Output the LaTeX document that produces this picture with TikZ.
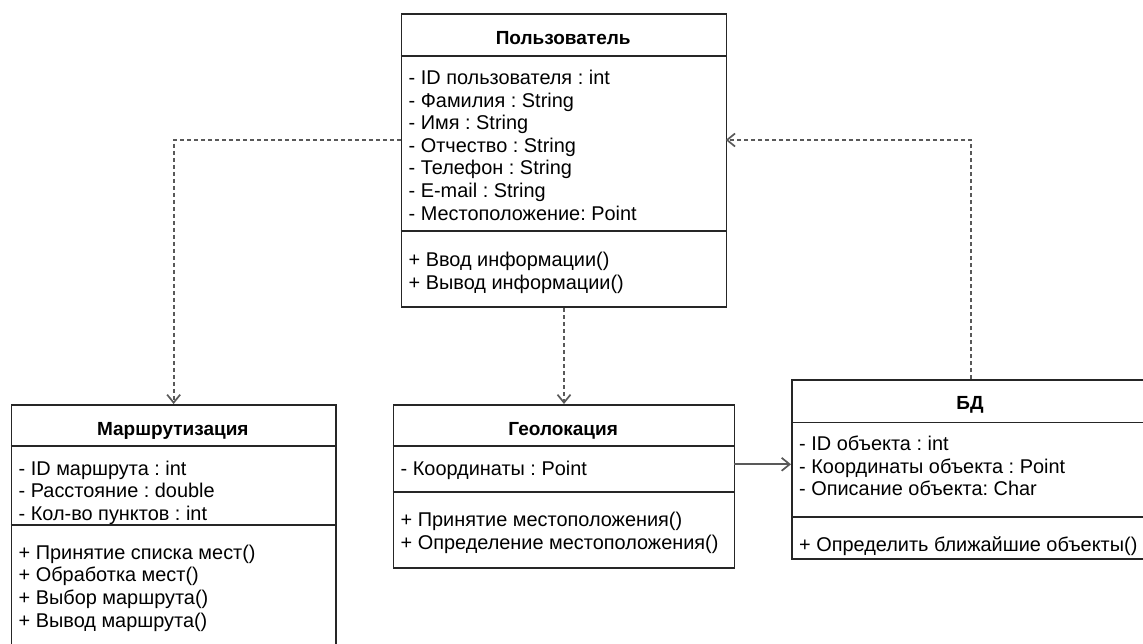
\documentclass[tikz,border=0pt]{standalone}
\usepackage{fontspec}
\setmainfont{Liberation Sans}
\usetikzlibrary{arrows.meta,calc}
\frenchspacing

\begin{document}
\begin{tikzpicture}[x=1pt,y=-1pt,
	classbox/.style={draw=black!85, line width=1.6pt, anchor=north west, inner sep=0pt},
	sepline/.style={draw=black!85, line width=1.6pt},
	title/.style={font=\fontsize{19}{22.6}\selectfont\bfseries, anchor=base, inner sep=0pt},
	member/.style={font=\fontsize{19.9}{22.6}\selectfont, anchor=base west, inner sep=0pt},
	link/.style={draw=black!65, line width=1.7pt, -{Straight Barb[length=8pt,width=13pt]}},
	dep/.style={link, dash pattern=on 4pt off 3pt}]
	\useasboundingbox (0,0) rectangle (1143,644);
	\clip (0,0) rectangle (1143,644);

	% Пользователь
	\node[classbox, minimum width=325pt, minimum height=293pt] (user) at (400.7,13.5) {};
	\draw[sepline] (user.north west) ++(0,42.5) -- ++(325,0);
	\draw[sepline] (user.north west) ++(0,217.5) -- ++(325,0);
	\node[title] (user-t) at (563.2,44.3) {Пользователь};
	\foreach \txt [count=\i from 0] in {- ID пользователя : int, - Фамилия : String, - Имя : String, - Отчество : String, - Телефон : String, - E-mail : String, - Местоположение: Point}
		\node[member] (user-a\i) at (408.5,84.5+22.6*\i) {\txt};
	\foreach \txt [count=\i from 0] in {+ Ввод информации(), + Вывод информации()}
		\node[member] (user-m\i) at (408.5,266.5+22.6*\i) {\txt};

	% Маршрутизация
	\node[classbox, minimum width=324.3pt, minimum height=260pt] (route) at (10.7,404) {};
	\draw[sepline] (route.north west) ++(0,42) -- ++(324.3,0);
	\draw[sepline] (route.north west) ++(0,121) -- ++(324.3,0);
	\node[title] (route-t) at (172.8,435) {Маршрутизация};
	\foreach \txt [count=\i from 0] in {- ID маршрута : int, - Расстояние : double, - Кол-во пунктов : int}
		\node[member] (route-a\i) at (18.5,475+22.6*\i) {\txt};
	\foreach \txt [count=\i from 0] in {+ Принятие списка мест(), + Обработка мест(), + Выбор маршрута(), + Вывод маршрута()}
		\node[member] (route-m\i) at (18.5,559.3+22.6*\i) {\txt};

	% Геолокация
	\node[classbox, minimum width=341pt, minimum height=163pt] (geo) at (392.7,404) {};
	\draw[sepline] (geo.north west) ++(0,42) -- ++(341,0);
	\draw[sepline] (geo.north west) ++(0,88) -- ++(341,0);
	\node[title] (geo-t) at (563.2,435) {Геолокация};
	\node[member] (geo-a0) at (400.5,475) {- Координаты : Point};
	\foreach \txt [count=\i from 0] in {+ Принятие местоположения(), + Определение местоположения()}
		\node[member] (geo-m\i) at (400.5,526.5+22.6*\i) {\txt};

	% БД
	\node[classbox, minimum width=358pt, minimum height=179pt] (db) at (791,379.3) {};
	\draw[sepline] (db.north west) ++(0,43) -- ++(358,0);
	\draw[sepline] (db.north west) ++(0,137.4) -- ++(358,0);
	\node[title] (db-t) at (970,409.8) {БД};
	\foreach \txt [count=\i from 0] in {- ID объекта : int, - Координаты объекта : Point, - Описание объекта: Char}
		\node[member] (db-a\i) at (799,450.5+22.6*\i) {\txt};
	\node[member] (db-m0) at (799,551.5) {+ Определить ближайшие объекты()};

	% связи
	\coordinate (u-left) at (400.7,140);
	\coordinate (u-right) at (725.7,140);
	\coordinate (g-right) at (733.7,464.3);
	\draw[dep] (u-left) -| (route.north);
	\draw[dep] (user.south) -- (geo.north);
	\draw[link] (g-right) -- (g-right -| db.west);
	\draw[dep] (db.north) |- (u-right);
\end{tikzpicture}
\end{document}
